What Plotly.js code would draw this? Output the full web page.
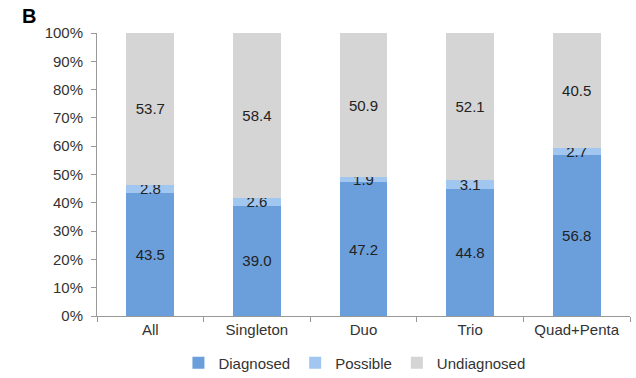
<!DOCTYPE html>
<html>
<head>
<meta charset="utf-8">
<script src="https://cdn.plot.ly/plotly-3.0.1.min.js"></script>
<style>html,body{margin:0;padding:0;background:#fff;}#chart{width:636px;height:378px;}</style>
</head>
<body>
<div id="chart"></div>
<script>
var categories = ["All", "Singleton", "Duo", "Trio", "Quad+Penta"];
var diagnosed = [43.5, 39.0, 47.2, 44.8, 56.8];
var possible = [2.8, 2.6, 1.9, 3.1, 2.7];
var undiagnosed = [53.7, 58.4, 50.9, 52.1, 40.5];
var yTicks = [0, 10, 20, 30, 40, 50, 60, 70, 80, 90, 100];
var yTickText = ["0%", "10%", "20%", "30%", "40%", "50%", "60%", "70%", "80%", "90%", "100%"];

var FONT = 'Liberation Sans, Arial, sans-serif';
function series(name, vals, color) {
  return {
    type: 'bar', name: name, x: categories, y: vals,
    marker: {color: color},
    texttemplate: '%{y:.1f}', textposition: 'inside', insidetextanchor: 'middle',
    constraintext: 'none', cliponaxis: false,
    textfont: {family: FONT, size: 15, color: '#222'},
    hoverinfo: 'none'
  };
}
var data = [
  series('Diagnosed', diagnosed, '#6a9fdc'),
  series('Possible', possible, '#a1c6ef'),
  series('Undiagnosed', undiagnosed, '#d5d5d5')
];
var layout = {
  width: 636, height: 378,
  margin: {l: 97, r: 6, t: 33, b: 62, autoexpand: false},
  barmode: 'stack', bargap: 0.55,
  paper_bgcolor: '#fff', plot_bgcolor: '#fff',
  font: {family: FONT, size: 15, color: '#333'},
  showlegend: true,
  legend: {orientation: 'h', traceorder: 'normal', x: 0.483, xanchor: 'center',
    y: -0.166, yanchor: 'middle', font: {size: 15, color: '#333'},
    itemwidth: 30, tracegroupgap: 0, borderwidth: 0},
  xaxis: {type: 'category', showline: true, linecolor: '#999', linewidth: 1,
    ticks: 'outside', tickson: 'boundaries', ticklen: 5, tickcolor: '#999',
    showgrid: false, zeroline: false, tickfont: {size: 15, color: '#333'}},
  yaxis: {range: [0, 100], tickvals: yTicks, ticktext: yTickText, showline: true,
    linecolor: '#999', linewidth: 1, ticks: 'outside', ticklen: 5, tickcolor: '#999',
    ticklabelstandoff: 5,
    showgrid: false, zeroline: false, tickfont: {size: 15, color: '#333'}},
  annotations: [{text: '<b>B</b>', xref: 'paper', yref: 'paper', x: -0.145, y: 1.06,
    xanchor: 'left', yanchor: 'middle', showarrow: false,
    font: {size: 20, color: '#000', family: FONT}}]
};
Plotly.newPlot('chart', data, layout, {displayModeBar: false, staticPlot: true});
</script>
</body>
</html>
